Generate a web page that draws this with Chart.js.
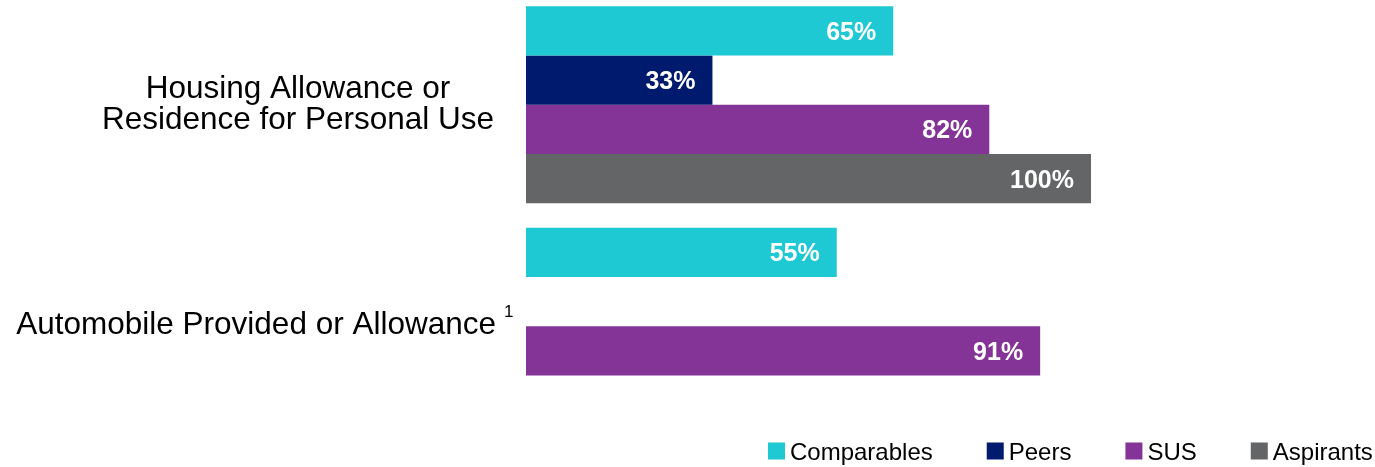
<!DOCTYPE html>
<html>
<head>
<meta charset="utf-8">
<script src="https://cdn.jsdelivr.net/npm/chart.js@4"></script>
<style>
  html, body { margin: 0; padding: 0; background: #ffffff; overflow: hidden; }
  #wrap { position: relative; width: 1375px; height: 467px; overflow: hidden; }
  #c { position: absolute; left: 0; top: -7px; }
</style>
</head>
<body>
<div id="wrap"><canvas id="c" width="1375" height="481"></canvas></div>
<script>
const categories = [["Housing Allowance or", "Residence for Personal Use"], ["Automobile Provided or Allowance"]];
const footnotes = ["", "1"];
const seriesNames = ["Comparables", "Peers", "SUS", "Aspirants"];
const comparables = [65, 55];
const peers = [33, null];
const sus = [82, 91];
const aspirants = [100, null];
const colors = ["#1fc9d4", "#001a6e", "#843397", "#646567"];

const FONT = "'Liberation Sans', Arial, sans-serif";

const labelPlugin = {
  id: 'customLabels',
  afterDatasetsDraw(chart) {
    const ctx = chart.ctx;
    ctx.save();
    ctx.font = "bold 25px " + FONT;
    ctx.fillStyle = "#ffffff";
    ctx.textAlign = "right";
    ctx.textBaseline = "middle";
    chart.data.datasets.forEach((ds, di) => {
      const meta = chart.getDatasetMeta(di);
      meta.data.forEach((el, i) => {
        const v = ds.data[i];
        if (v === null || v === undefined) return;
        ctx.fillText(v + "%", el.x - 17, el.y + 2);
      });
    });
    const y = chart.scales.y;
    ctx.fillStyle = "#000000";
    categories.forEach((lines, i) => {
      const cy = y.getPixelForValue(i);
      ctx.font = "31.5px " + FONT;
      ctx.textBaseline = "alphabetic";
      if (lines.length === 2) {
        ctx.textAlign = "center";
        ctx.fillText(lines[0], 298, cy - 6.6);
        ctx.fillText(lines[1], 298, cy + 24.4);
      } else {
        ctx.textAlign = "right";
        ctx.fillText(lines[0], 496, cy + 7.5);
        if (footnotes[i]) {
          ctx.font = "17px " + FONT;
          ctx.textAlign = "left";
          ctx.fillText(footnotes[i], 504, cy - 9);
        }
      }
    });
    ctx.font = "24px " + FONT;
    ctx.textAlign = "left";
    ctx.textBaseline = "middle";
    let x = 768;
    const ly = 458;
    seriesNames.forEach((name, i) => {
      ctx.fillStyle = colors[i];
      ctx.fillRect(x, ly - 8.5, 17, 17);
      ctx.fillStyle = "#000000";
      ctx.fillText(name, x + 22, ly + 2);
      x += 22 + ctx.measureText(name).width + 54;
    });
    ctx.restore();
  }
};

new Chart(document.getElementById('c'), {
  type: 'bar',
  data: {
    labels: categories,
    datasets: [
      { label: seriesNames[0], data: comparables, backgroundColor: colors[0] },
      { label: seriesNames[1], data: peers, backgroundColor: colors[1] },
      { label: seriesNames[2], data: sus, backgroundColor: colors[2] },
      { label: seriesNames[3], data: aspirants, backgroundColor: colors[3] }
    ]
  },
  options: {
    indexAxis: 'y',
    responsive: false,
    animation: false,
    layout: { padding: { left: 526, right: 284, top: 1, bottom: 37 } },
    datasets: { bar: { categoryPercentage: 0.89, barPercentage: 1.0, borderWidth: 0 } },
    scales: {
      x: { display: false, min: 0, max: 100 },
      y: { display: false }
    },
    plugins: { legend: { display: false }, tooltip: { enabled: false } }
  },
  plugins: [labelPlugin]
});
</script>
</body>
</html>
